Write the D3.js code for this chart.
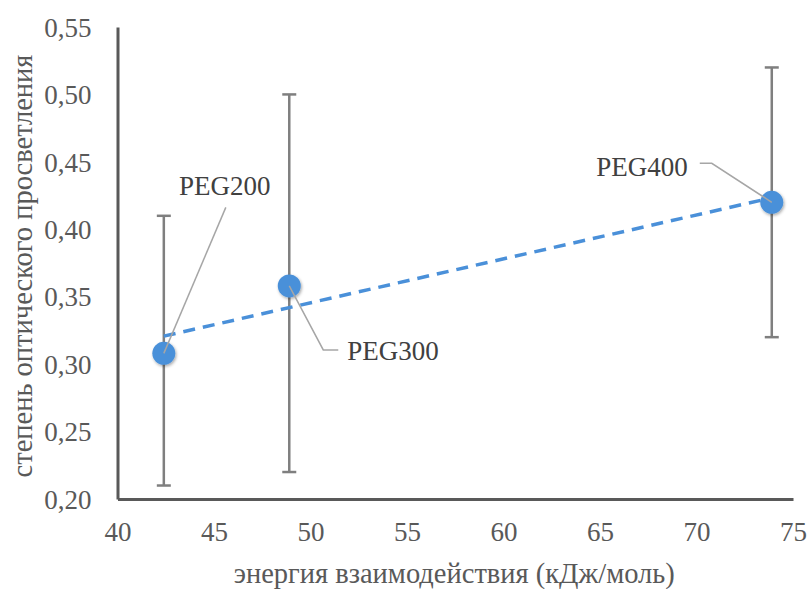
<!DOCTYPE html>
<html>
<head>
<meta charset="utf-8">
<script src="https://cdn.jsdelivr.net/npm/d3@7"></script>
<style>
  body { margin: 0; background: #fff; }
</style>
</head>
<body>
<div id="chart"></div>
<script>
// data
var names = ["PEG200", "PEG300", "PEG400"];
var energy = [42.4, 48.9, 73.9];          // кДж/моль
var clearing = [0.308, 0.358, 0.42];
var errLow = [0.21, 0.22, 0.32];
var errHigh = [0.41, 0.50, 0.52];
var yTicks = [0.20, 0.25, 0.30, 0.35, 0.40, 0.45, 0.50, 0.55];
var xTicks = [40, 45, 50, 55, 60, 65, 70, 75];

// where each label sits relative to its point (px)
var labelLayout = {
  PEG200: { elbow: [62, -146], end: [62, -146], text: [61, -168], anchor: "middle" },
  PEG300: { elbow: [34, 64], end: [49, 64], text: [58, 65], anchor: "start" },
  PEG400: { elbow: [-60, -39], end: [-72, -39], text: [-84, -36], anchor: "end" }
};

var width = 808, height = 589;
var blue = "#4a90d9";
var serif = "'Liberation Serif', 'Times New Roman', serif";

var svg = d3.select("#chart").append("svg")
  .attr("width", width)
  .attr("height", height);

var x = d3.scaleLinear().domain([40, 75]).range([117.5, 793]);
var y = d3.scaleLinear().domain([0.20, 0.55]).range([499, 27]);

var fmt = function(v) { return d3.format(".2f")(v).replace(".", ","); };

var defs = svg.append("defs");
var shadow = defs.append("filter").attr("id", "shadow")
  .attr("x", "-50%").attr("y", "-50%").attr("width", "200%").attr("height", "200%");
shadow.append("feDropShadow")
  .attr("dx", 1).attr("dy", 1.5).attr("stdDeviation", 1.5)
  .attr("flood-color", "#000").attr("flood-opacity", 0.35);

// axes, lines only
var yAxis = svg.append("g")
  .attr("transform", "translate(" + x(40) + ",0)")
  .call(d3.axisLeft(y).tickValues(yTicks).tickSize(0).tickPadding(26).tickFormat(fmt));
var xAxis = svg.append("g")
  .attr("transform", "translate(0," + y(0.20) + ")")
  .call(d3.axisBottom(x).tickValues(xTicks).tickSize(0).tickPadding(23));

[yAxis, xAxis].forEach(function(ax) {
  ax.attr("font-family", null).attr("font-size", null);
  ax.select(".domain").attr("stroke", "#595959").attr("stroke-width", 3);
  ax.selectAll("text")
    .attr("fill", "#595959")
    .style("font-size", "27px")
    .style("font-family", serif);
});
yAxis.selectAll("text").attr("dy", "0.34em");

// axis titles
svg.append("text")
  .attr("x", (x(40) + x(75)) / 2 - 1)
  .attr("y", 583)
  .attr("text-anchor", "middle")
  .attr("fill", "#595959")
  .style("font-family", serif)
  .style("font-size", "28.5px")
  .text("энергия взаимодействия (кДж/моль)");

svg.append("text")
  .attr("transform", "translate(32," + ((y(0.2) + y(0.55)) / 2 + 3) + ") rotate(-90)")
  .attr("text-anchor", "middle")
  .attr("fill", "#595959")
  .style("font-family", serif)
  .style("font-size", "28.5px")
  .text("степень оптического просветления");

var pts = names.map(function(n, i) {
  return { name: n, x: energy[i], y: clearing[i], lo: errLow[i], hi: errHigh[i] };
});

// error bars
var eb = svg.append("g").attr("stroke", "#7f7f7f").attr("stroke-width", 2.5);
pts.forEach(function(d) {
  eb.append("line").attr("x1", x(d.x)).attr("x2", x(d.x)).attr("y1", y(d.lo)).attr("y2", y(d.hi));
  eb.append("line").attr("x1", x(d.x) - 7).attr("x2", x(d.x) + 7).attr("y1", y(d.lo)).attr("y2", y(d.lo));
  eb.append("line").attr("x1", x(d.x) - 7).attr("x2", x(d.x) + 7).attr("y1", y(d.hi)).attr("y2", y(d.hi));
});

// linear trend line (least squares through the three points)
var mx = d3.mean(energy), my = d3.mean(clearing);
var sxy = d3.sum(energy, function(v, i) { return (v - mx) * (clearing[i] - my); });
var sxx = d3.sum(energy, function(v) { return (v - mx) * (v - mx); });
var slope = sxy / sxx, icpt = my - slope * mx;
var x0 = d3.min(energy), x1 = d3.max(energy);
svg.append("line")
  .attr("x1", x(x0)).attr("y1", y(icpt + slope * x0))
  .attr("x2", x(x1)).attr("y2", y(icpt + slope * x1))
  .attr("stroke", blue)
  .attr("stroke-width", 3.5)
  .attr("stroke-dasharray", "12,8");

// markers
svg.append("g").selectAll("circle")
  .data(pts).enter().append("circle")
  .attr("cx", function(d) { return x(d.x); })
  .attr("cy", function(d) { return y(d.y); })
  .attr("r", 11.5)
  .attr("fill", blue)
  .attr("filter", "url(#shadow)");

// data labels with leader lines
var lab = svg.append("g");
pts.forEach(function(d) {
  var L = labelLayout[d.name];
  var px = x(d.x), py = y(d.y);
  lab.append("polyline")
    .attr("points", [[px, py], [px + L.elbow[0], py + L.elbow[1]], [px + L.end[0], py + L.end[1]]].join(" "))
    .attr("fill", "none")
    .attr("stroke", "#a6a6a6")
    .attr("stroke-width", 1.5);
  lab.append("text")
    .attr("x", px + L.text[0])
    .attr("y", py + L.text[1])
    .attr("dy", "0.35em")
    .attr("text-anchor", L.anchor)
    .attr("fill", "#404040")
    .style("font-family", serif)
    .style("font-size", "27px")
    .text(d.name);
});
</script>
</body>
</html>
